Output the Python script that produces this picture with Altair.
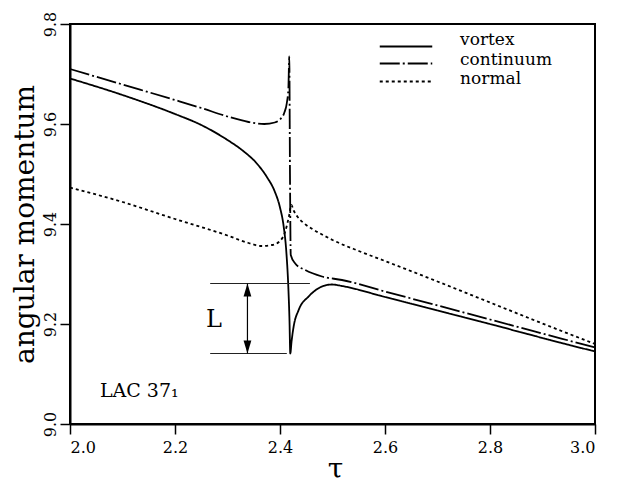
import altair as alt
import pandas as pd

# ---- data ----
series_names = ["vortex", "continuum", "normal"]

vortex_tau = [2.000, 2.100, 2.200, 2.250, 2.300, 2.330, 2.355, 2.375, 2.390, 2.400,
              2.407, 2.412, 2.416, 2.418, 2.4196, 2.422, 2.426, 2.4355, 2.4546, 2.480,
              2.499, 2.518, 2.600, 2.700, 2.800, 2.900, 3.000]
vortex_val = [9.691, 9.658, 9.620, 9.598, 9.568, 9.546, 9.522, 9.494, 9.465, 9.433,
              9.395, 9.345, 9.270, 9.210, 9.141, 9.165, 9.195, 9.228, 9.255, 9.275,
              9.279, 9.276, 9.254, 9.227, 9.200, 9.172, 9.145]

continuum_tau = [2.000, 2.100, 2.200, 2.250, 2.300, 2.340, 2.370, 2.390, 2.400, 2.408,
                 2.413, 2.416, 2.4177, 2.419, 2.4205, 2.429, 2.448, 2.480, 2.518,
                 2.600, 2.700, 2.800, 2.900, 3.000]
continuum_val = [9.710, 9.679, 9.648, 9.632, 9.615, 9.604, 9.600, 9.603, 9.609, 9.622,
                 9.642, 9.672, 9.735, 9.500, 9.338, 9.321, 9.308, 9.295, 9.288,
                 9.265, 9.237, 9.209, 9.181, 9.153]

normal_tau = [2.000, 2.100, 2.200, 2.300, 2.340, 2.365, 2.385, 2.400, 2.410, 2.417,
              2.4216, 2.426, 2.433, 2.445, 2.460, 2.480, 2.500, 2.550, 2.600, 2.700,
              2.800, 2.900, 3.000]
normal_val = [9.473, 9.444, 9.410, 9.377, 9.362, 9.356, 9.358, 9.366, 9.385, 9.415,
              9.438, 9.427, 9.415, 9.402, 9.391, 9.379, 9.368, 9.346, 9.326, 9.285,
              9.243, 9.201, 9.160]

x_ticks = [2.0, 2.2, 2.4, 2.6, 2.8, 3.0]
y_ticks = [9.0, 9.2, 9.4, 9.6, 9.8]

# annotation: the "L" bracket
L_top = 9.281
L_bottom = 9.141
L_label = "L"
panel_label = "LAC 37\u2081"

# ---- build tables ----
rows = []
for name, ts, vs in [("vortex", vortex_tau, vortex_val),
                     ("continuum", continuum_tau, continuum_val),
                     ("normal", normal_tau, normal_val)]:
    for i, (t, v) in enumerate(zip(ts, vs)):
        rows.append({"series": name, "tau": t, "value": v, "i": i})
df = pd.DataFrame(rows)

dash_scale = alt.Scale(domain=series_names, range=[[1, 0], [20, 3, 2, 3], [3, 3]])
FONT = "DejaVu Serif"

x_axis = alt.Axis(values=x_ticks, format=".1f", title="\u03c4", grid=False,
                  tickSize=10, tickWidth=1.5, tickColor="black",
                  domainColor="black", domainWidth=2,
                  labelFont=FONT, labelFontSize=16, labelColor="black", labelPadding=5,
                  titleFont=FONT, titleFontSize=28, titleFontWeight="normal",
                  titleColor="black", titleBaseline="alphabetic", titleX=265, titleY=53)
y_axis = alt.Axis(values=y_ticks, format=".1f", title="angular momentum", grid=False,
                  tickSize=10, tickWidth=1.5, tickColor="black",
                  domainColor="black", domainWidth=2,
                  labelFont=FONT, labelFontSize=16, labelColor="black", labelPadding=2,
                  labelAngle=270,
                  titleFont=FONT, titleFontSize=28, titleFontWeight="normal",
                  titleColor="black", titleBaseline="alphabetic", titleX=-37, titleY=200,
                  titleAngle=270)

xs = alt.Scale(domain=[2.0, 3.0], nice=False, zero=False)
ys = alt.Scale(domain=[9.0, 9.8], nice=False, zero=False)
X = alt.X("tau:Q", scale=xs, axis=x_axis)
Y = alt.Y("value:Q", scale=ys, axis=y_axis)

lines = alt.Chart(df).mark_line(color="black", strokeWidth=1.8, interpolate="monotone").encode(
    x=X, y=Y,
    strokeDash=alt.StrokeDash("series:N", scale=dash_scale, legend=None),
    order=alt.Order("i:Q"),
)

# manual legend (positions in data units)
leg = pd.DataFrame({
    "series": series_names,
    "tau": [2.590] * 3,
    "tau2": [2.690] * 3,
    "value": [9.755, 9.721, 9.685],
})
leg["tx"] = 2.743
leg["ty"] = [9.759, 9.719, 9.680]

leg_lines = alt.Chart(leg).mark_rule(color="black", strokeWidth=1.8).encode(
    x=X, x2=alt.X2("tau2:Q"), y=Y,
    strokeDash=alt.StrokeDash("series:N", scale=dash_scale, legend=None),
)
leg_text = alt.Chart(leg).mark_text(align="left", baseline="alphabetic", font=FONT,
                                    fontSize=17, color="black").encode(
    x=alt.X("tx:Q", scale=xs, axis=x_axis), y=alt.Y("ty:Q", scale=ys, axis=y_axis),
    text="series:N",
)

# bracket lines
br = pd.DataFrame({"tau": [2.267, 2.267], "tau2": [2.457, 2.413], "value": [L_top, L_bottom]})
br_lines = alt.Chart(br).mark_rule(color="#222", strokeWidth=1).encode(
    x=X, x2=alt.X2("tau2:Q"), y=Y)

arr = pd.DataFrame({"tau": [2.338], "value": [L_top], "value2": [L_bottom]})
arr_line = alt.Chart(arr).mark_rule(color="black", strokeWidth=1.2).encode(
    x=X, y=Y, y2=alt.Y2("value2:Q"))

head_up = alt.Chart(pd.DataFrame({"tau": [2.338], "value": [L_top]})).mark_point(
    shape="M0,0L-0.6,2L0.6,2Z", filled=True, color="black", opacity=1, size=169,
    strokeWidth=0).encode(x=X, y=Y)
head_down = alt.Chart(pd.DataFrame({"tau": [2.338], "value": [L_bottom]})).mark_point(
    shape="M0,0L-0.6,-2L0.6,-2Z", filled=True, color="black", opacity=1, size=169,
    strokeWidth=0).encode(x=X, y=Y)

L_text = alt.Chart(pd.DataFrame({"tau": [2.274], "value": [9.195], "t": [L_label]})).mark_text(
    align="center", baseline="alphabetic", font=FONT, fontSize=24, color="black").encode(
    x=X, y=Y, text="t:N")

lac_text = alt.Chart(pd.DataFrame({"tau": [2.057], "value": [9.055], "t": [panel_label]})).mark_text(
    align="left", baseline="alphabetic", font=FONT, fontSize=19, color="black").encode(
    x=X, y=Y, text="t:N")

chart = alt.layer(lines, leg_lines, leg_text, br_lines, arr_line, head_up, head_down,
                  L_text, lac_text).properties(
    width=525, height=400,
    autosize=alt.AutoSizeParams(type="none"),
    padding={"left": 62, "top": 16, "right": 18, "bottom": 64},
    background="white",
).configure_view(stroke="black", strokeWidth=2)

chart.save("out.html", embed_options={"renderer": "svg", "actions": False})
